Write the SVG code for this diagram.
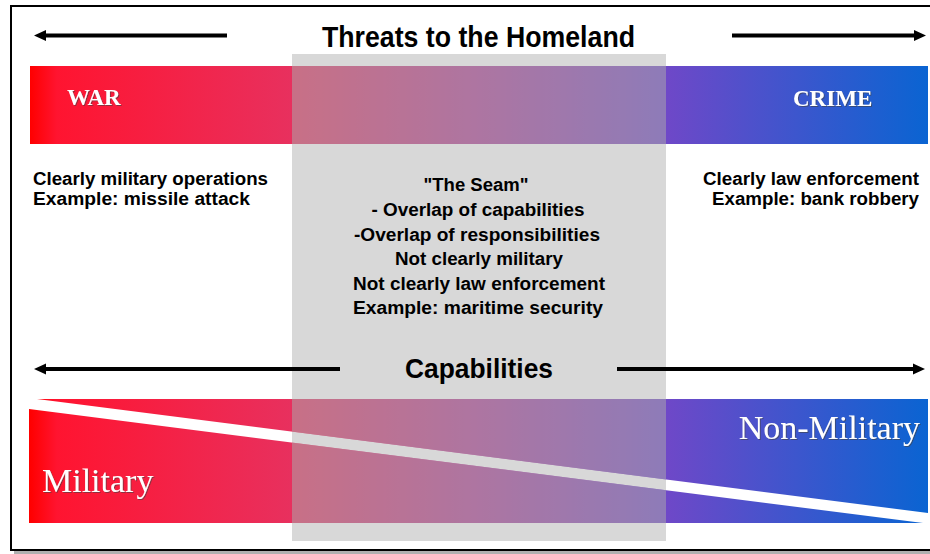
<svg xmlns="http://www.w3.org/2000/svg" width="930" height="554" viewBox="0 0 930 554">
<defs>
<linearGradient id="bar" gradientUnits="userSpaceOnUse" x1="30" y1="0" x2="928" y2="0">
<stop offset="0" stop-color="#ff0000"/>
<stop offset="0.03" stop-color="#ff1430"/>
<stop offset="0.29" stop-color="#e8305e"/>
<stop offset="0.5" stop-color="#b03c98"/>
<stop offset="0.71" stop-color="#6e48c8"/>
<stop offset="1" stop-color="#0a64d2"/>
</linearGradient>
<clipPath id="capclip">
<polygon points="37,399 928,399 928,513"/>
<polygon points="29,409 923,523 29,523"/>
</clipPath>
<filter id="sh" x="-10%" y="-20%" width="130%" height="150%">
<feDropShadow dx="1" dy="1" stdDeviation="0.6" flood-color="#404040" flood-opacity="0.6"/>
</filter>
<marker id="ah" viewBox="0 0 12 12" refX="2" refY="6" markerWidth="12" markerHeight="12" markerUnits="userSpaceOnUse" orient="auto">
<path d="M0,0.5 L12,6 L0,11.5 Z" fill="#000"/>
</marker>
</defs>
<style>
.bt{font-family:"Liberation Sans",Arial,sans-serif;font-weight:bold;fill:#000}
.sv{font-family:"Liberation Serif","Times New Roman",serif;fill:#fff}
.arr{stroke:#000;stroke-width:4;fill:none}
.ov{fill:#aaaaaa;fill-opacity:0.52}
</style>
<rect x="0" y="0" width="930" height="554" fill="#fff"/>
<rect x="14" y="551" width="930" height="3" fill="#b0b0b0"/>
<rect x="11" y="6" width="940" height="544" fill="none" stroke="#000" stroke-width="2"/>

<g id="seam">
<rect x="292" y="54" width="374" height="487" fill="#d8d8d8"/>
</g>

<g id="war-crime-bar">
<rect x="30" y="66" width="898" height="78" fill="url(#bar)"/>
<rect class="ov" x="292" y="66" width="374" height="78"/>
<text class="sv" x="67" y="105" font-size="23" font-weight="bold" filter="url(#sh)">WAR</text>
<text class="sv" x="793" y="106" font-size="23" font-weight="bold" filter="url(#sh)">CRIME</text>
</g>

<g id="capability-bar">
<polygon points="37,399 928,399 928,513" fill="url(#bar)"/>
<polygon points="29,409 923,523 29,523" fill="url(#bar)"/>
<rect class="ov" x="292" y="399" width="374" height="124" clip-path="url(#capclip)"/>
<text class="sv" x="42" y="491.5" font-size="34" filter="url(#sh)">Military</text>
<text class="sv" x="920" y="439" font-size="34" text-anchor="end" filter="url(#sh)">Non-Military</text>
</g>

<g id="title">
<text class="bt" x="478.5" y="46.5" font-size="30" text-anchor="middle" textLength="313" lengthAdjust="spacingAndGlyphs">Threats to the Homeland</text>
</g>

<g id="war-text">
<text class="bt" x="33" y="185" font-size="18" textLength="235" lengthAdjust="spacingAndGlyphs">Clearly military operations</text>
<text class="bt" x="33" y="205" font-size="18" textLength="217" lengthAdjust="spacingAndGlyphs">Example: missile attack</text>
</g>

<g id="crime-text">
<text class="bt" x="919" y="185" font-size="18" text-anchor="end" textLength="216" lengthAdjust="spacingAndGlyphs">Clearly law enforcement</text>
<text class="bt" x="919" y="205" font-size="18" text-anchor="end" textLength="207" lengthAdjust="spacingAndGlyphs">Example: bank robbery</text>
</g>

<g id="seam-text">
<text class="bt" x="476" y="190.5" font-size="18" text-anchor="middle" textLength="105" lengthAdjust="spacingAndGlyphs">"The Seam"</text>
<text class="bt" x="478" y="215.5" font-size="18" text-anchor="middle" textLength="213" lengthAdjust="spacingAndGlyphs">- Overlap of capabilities</text>
<text class="bt" x="477" y="240.5" font-size="18" text-anchor="middle" textLength="246" lengthAdjust="spacingAndGlyphs">-Overlap of responsibilities</text>
<text class="bt" x="479" y="265" font-size="18" text-anchor="middle" textLength="168" lengthAdjust="spacingAndGlyphs">Not clearly military</text>
<text class="bt" x="479" y="289.5" font-size="18" text-anchor="middle" textLength="252" lengthAdjust="spacingAndGlyphs">Not clearly law enforcement</text>
<text class="bt" x="478" y="314" font-size="18" text-anchor="middle" textLength="250" lengthAdjust="spacingAndGlyphs">Example: maritime security</text>
</g>

<g id="capabilities">
<text class="bt" x="479" y="378" font-size="27" text-anchor="middle" textLength="148" lengthAdjust="spacingAndGlyphs">Capabilities</text>
</g>

<g id="connectors">
<line class="arr" x1="227" y1="35.5" x2="44" y2="35.5" marker-end="url(#ah)"/>
<line class="arr" x1="732" y1="35.5" x2="916" y2="35.5" marker-end="url(#ah)"/>
<line class="arr" x1="340" y1="369" x2="44" y2="369" marker-end="url(#ah)"/>
<line class="arr" x1="617" y1="369" x2="915" y2="369" marker-end="url(#ah)"/>
</g>
</svg>
